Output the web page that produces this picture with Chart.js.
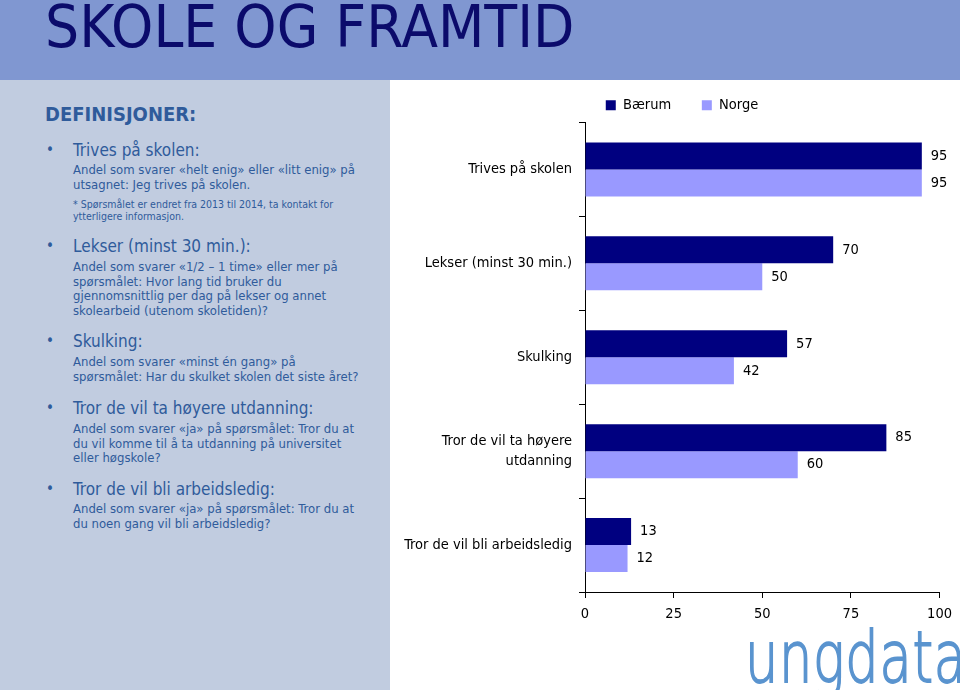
<!DOCTYPE html>
<html>
<head>
<meta charset="utf-8">
<script src="https://cdn.jsdelivr.net/npm/chart.js@4"></script>
<style>
  body { margin: 0; width: 960px; height: 690px; overflow: hidden; background: #fff; font-family: "DejaVu Sans Condensed", "DejaVu Sans", sans-serif; position: relative; }
  #header { position: absolute; left: 0; top: 0; width: 960px; height: 80px; background: #8097d1; }
  #title { position: absolute; left: 45px; top: -2px; font-size: 58px; line-height: 58px; color: #0b0b6b; transform-origin: left top; transform: scaleX(1.03); white-space: nowrap; }
  #side { position: absolute; left: 0; top: 80px; width: 390px; height: 610px; background: #c1cce0; }
  .t { position: absolute; color: #2f5b9b; white-space: nowrap; }
  .def { left: 45px; top: 102px; font-size: 20px; font-weight: bold; }
  .h { left: 73px; font-size: 17px; line-height: 20px; }
  .h::before { content: "•"; position: absolute; left: -27px; font-size: 15px; }
  .b { left: 73px; font-size: 13px; line-height: 14.6px; }
  .n { left: 73px; font-size: 10.5px; line-height: 12px; }
  #wrap { position: absolute; left: 390px; top: 80px; width: 570px; height: 560px; }
  #logo { position: absolute; left: 745px; top: 612px; font-size: 72px; line-height: 90px; color: #5a94cf; font-family: "DejaVu Sans", sans-serif; font-weight: 200; -webkit-text-stroke: 1.8px #5a94cf; transform-origin: left top; transform: scaleX(0.73); white-space: nowrap; letter-spacing: 1px; }
</style>
</head>
<body>
<div id="header"><div id="title">SKOLE OG FRAMTID</div></div>
<div id="side"></div>

<div class="t def">DEFINISJONER:</div>

<div class="t h" style="top:140px">Trives på skolen:</div>
<div class="t b" style="top:163px">Andel som svarer «helt enig» eller «litt enig» på<br>utsagnet: Jeg trives på skolen.</div>
<div class="t n" style="top:198px">* Spørsmålet er endret fra 2013 til 2014, ta kontakt for<br>ytterligere informasjon.</div>

<div class="t h" style="top:236px">Lekser (minst 30 min.):</div>
<div class="t b" style="top:260px">Andel som svarer «1/2 – 1 time» eller mer på<br>spørsmålet: Hvor lang tid bruker du<br>gjennomsnittlig per dag på lekser og annet<br>skolearbeid (utenom skoletiden)?</div>

<div class="t h" style="top:331px">Skulking:</div>
<div class="t b" style="top:355px">Andel som svarer «minst én gang» på<br>spørsmålet: Har du skulket skolen det siste året?</div>

<div class="t h" style="top:398px">Tror de vil ta høyere utdanning:</div>
<div class="t b" style="top:422px">Andel som svarer «ja» på spørsmålet: Tror du at<br>du vil komme til å ta utdanning på universitet<br>eller høgskole?</div>

<div class="t h" style="top:479px">Tror de vil bli arbeidsledig:</div>
<div class="t b" style="top:502px">Andel som svarer «ja» på spørsmålet: Tror du at<br>du noen gang vil bli arbeidsledig?</div>

<div id="wrap"><canvas id="skoleChart"></canvas></div>
<div id="logo">ungdata</div>

<script>
const categories = [
    'Trives på skolen',
    'Lekser (minst 30 min.)',
    'Skulking',
    ['Tror de vil ta høyere', 'utdanning'],
    'Tror de vil bli arbeidsledig'
];
const baerum = [95, 70, 57, 85, 13];
const norge = [95, 50, 42, 60, 12];
const xTicks = [0, 25, 50, 75, 100];

const font = '"DejaVu Sans Condensed", "DejaVu Sans", sans-serif';

// value labels right of each bar
const barValues = {
    id: 'barValues',
    afterDatasetsDraw(chart) {
        const ctx = chart.ctx;
        ctx.save();
        ctx.font = '14.5px ' + font;
        ctx.fillStyle = '#000';
        ctx.textBaseline = 'middle';
        chart.data.datasets.forEach((ds, i) => {
            chart.getDatasetMeta(i).data.forEach((bar, j) => {
                ctx.fillText(ds.data[j], bar.x + 9, bar.y);
            });
        });
        ctx.restore();
    }
};

// legend sits a bit right of the chart centre in the original
const legendShift = {
    id: 'legendShift',
    afterLayout(chart) {
        chart.legend.left += 17;
        chart.legend.right += 17;
    }
};

document.addEventListener('DOMContentLoaded', () => {
    const ctx = document.getElementById('skoleChart').getContext('2d');

    new Chart(ctx, {
        type: 'bar',
        data: {
            labels: categories,
            datasets: [
                { label: 'Bærum', data: baerum, backgroundColor: '#000080' },
                { label: 'Norge', data: norge, backgroundColor: '#9999ff' }
            ]
        },
        options: {
            indexAxis: 'y',
            responsive: true,
            maintainAspectRatio: false,
            animation: false,
            categoryPercentage: 0.575,
            barPercentage: 1,
            layout: { padding: { top: 8, right: 20 } },
            plugins: {
                legend: {
                    labels: {
                        font: { family: font, size: 14.5 },
                        color: '#000',
                        boxWidth: 10,
                        boxHeight: 10,
                        padding: 10,
                        // wider gap between the two items, like the original
                        generateLabels: chart => Chart.defaults.plugins.legend.labels.generateLabels(chart)
                            .map((l, i) => ({ ...l, text: i === 0 ? l.text + '     ' : l.text }))
                    }
                },
                tooltip: { enabled: false }
            },
            scales: {
                x: {
                    min: 0,
                    max: 100,
                    afterBuildTicks: s => { s.ticks = xTicks.map(v => ({ value: v })); },
                    afterFit: s => { s.height = 48; },
                    grid: { drawOnChartArea: false, color: '#000', tickLength: 6 },
                    border: { color: '#000' },
                    ticks: { color: '#000', font: { family: font, size: 14.5 }, padding: 8, maxRotation: 0 }
                },
                y: {
                    afterFit: s => { s.width = 195; },
                    grid: { drawOnChartArea: false, color: '#000', tickLength: 6 },
                    border: { color: '#000' },
                    ticks: { color: '#000', font: { family: font, size: 14.5, lineHeight: 1.4 }, padding: 7 }
                }
            }
        },
        plugins: [barValues, legendShift]
    });
});
</script>
</body>
</html>
